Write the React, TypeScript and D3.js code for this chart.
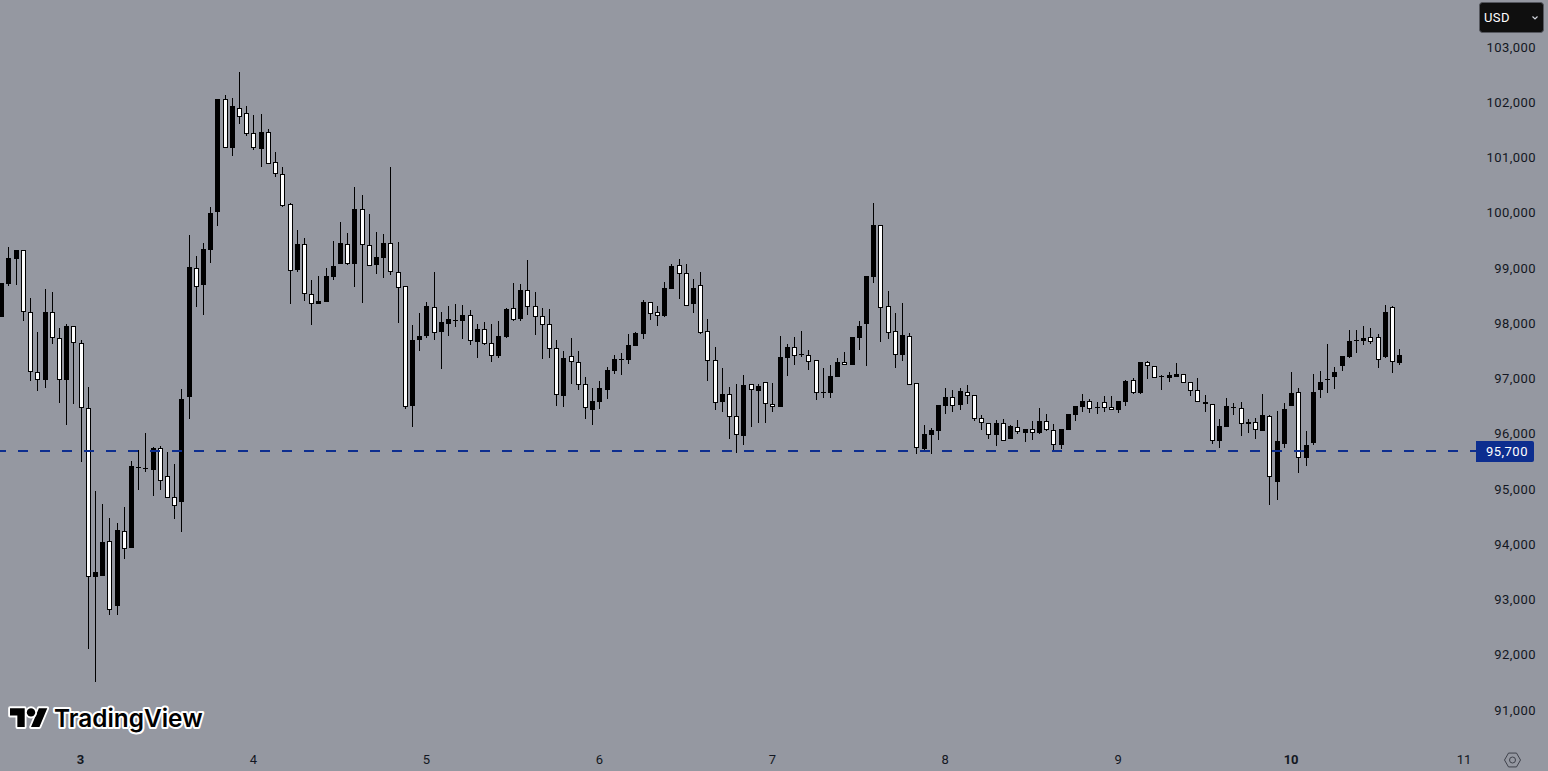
import React, { useRef, useEffect } from 'react'
import * as d3 from 'd3'

// hourly candles, first one is 11 hours before day 3
const firstCandle = Date.UTC(2025, 1, 2, 13)

const opens = [
  98110, 98710, 99160, 99330, 98200, 97110, 96970, 98200, 97740, 96970, 97950,
  97640, 96470, 93400, 93430, 94060, 92890, 94240, 93930, 95380, 95360,
  95340, 95740, 95240, 94850, 94770, 96670, 99000, 98690, 99330, 100010,
  102060, 101170, 101900, 101810, 101440, 101150, 101460, 100920, 100700, 100160,
  98960, 99430, 98530, 98350, 98390, 98840, 99070, 99430, 99070, 100070,
  99420, 99050, 99180, 99450, 98930, 98670, 96500, 97700, 97770, 98290,
  97840, 97990, 98040, 98040, 98150, 97660, 97900, 97640, 97410, 97750,
  98280, 98070, 98600, 98310, 98130, 97990, 97550, 96680, 97410, 97300,
  96900, 96430, 96580, 96790, 97140, 97340, 97340, 97590, 97810, 98390,
  98200, 98130, 98620, 99050, 98910, 98350, 98690, 97860, 97340, 96580,
  96720, 96320, 95960, 96900, 96770, 96940, 96540, 96480, 97370, 97570,
  97430, 97430, 97340, 96740, 96740, 97030, 97300, 97240, 97730, 97990,
  98840, 99780, 98310, 97860, 97430, 97770, 96920, 95720, 95980, 96050,
  96500, 96670, 96520, 96760, 96700, 96290, 96190, 95980, 96190, 95910,
  96130, 96010, 96090, 96010, 96230, 96070, 95800, 96070, 96340, 96480,
  96590, 96470, 96580, 96480, 96430, 96580, 96970, 96740, 97300, 97230,
  97020, 97010, 97030, 97080, 96940, 96790, 96580, 96540, 95870, 96120,
  96460, 96470, 96180, 96210, 96050, 96320, 95130, 95820, 96500, 96760,
  95560, 95830, 96790, 96970, 97030, 97230, 97390, 97670, 97680, 97750,
  97750, 97390, 98290, 97280
]

const highs = [
  98730, 99380, 99330, 99330, 98460, 97840, 98620, 98570, 97910, 97990, 97950,
  97700, 96850, 94960, 94730, 94470, 94380, 94670, 95510, 95710, 96020,
  95760, 95770, 95670, 95450, 96810, 99600, 99220, 99450, 100100, 102060,
  102130, 102080, 102550, 101930, 101770, 101790, 101520, 101100, 100830, 100180,
  99690, 99540, 98780, 98860, 99000, 99490, 99830, 99630, 100470, 100320,
  99980, 99650, 99620, 100830, 99470, 98670, 97970, 98190, 98390, 98930,
  98200, 98310, 98350, 98330, 98240, 97990, 98020, 97990, 98040, 98280,
  98730, 98710, 99150, 98570, 98280, 98260, 97700, 97500, 97730, 97500,
  97030, 96830, 96960, 97210, 97430, 97460, 97810, 97840, 98420, 98390,
  98310, 98750, 99070, 99160, 99070, 98800, 98930, 98080, 97570, 97190,
  96850, 96900, 97060, 96900, 96900, 96940, 96920, 97770, 97630, 97750,
  97860, 97520, 97340, 97190, 97240, 97370, 97480, 97750, 98040, 98860,
  100180, 99780, 98580, 98190, 98370, 97820, 96920, 96160, 96100, 96520,
  96830, 96790, 96830, 96880, 96700, 96340, 96190, 96250, 96270, 96160,
  96250, 96090, 96230, 96470, 96360, 96180, 96090, 96360, 96500, 96720,
  96630, 96580, 96680, 96680, 96590, 96970, 97010, 97300, 97320, 97230,
  97060, 97120, 97280, 97080, 96940, 97010, 96700, 96540, 96270, 96650,
  96560, 96580, 96270, 96290, 96720, 96340, 96410, 96560, 97120, 96830,
  96050, 97080, 97130, 97630, 97210, 97410, 97880, 97880, 97950, 97910,
  97810, 98330, 98310, 97530
]

const lows = [
  98110, 98670, 98690, 98040, 96960, 96780, 96820, 97620, 96560, 96150, 96530,
  95480, 92100, 91510, 93430, 92720, 92720, 93740, 93930, 94980, 95310,
  94870, 94980, 94840, 94460, 94220, 96270, 98290, 98150, 99090, 99760,
  101170, 101030, 101610, 101390, 101140, 100820, 100890, 100650, 100110, 98350,
  98930, 98400, 97960, 98350, 98390, 98780, 99070, 99050, 98660, 98370,
  99040, 98890, 98820, 98870, 98000, 96450, 96120, 97500, 97730, 97700,
  97170, 97770, 97930, 97720, 97610, 97370, 97610, 97300, 97370, 97730,
  98040, 98040, 98150, 97790, 97350, 97370, 96500, 96480, 96900, 96790,
  96270, 96160, 96450, 96630, 97080, 97060, 97260, 97590, 97720, 98060,
  97950, 98110, 98620, 98440, 98320, 98190, 97810, 96960, 96430, 96390,
  95910, 95660, 95800, 96120, 96190, 96190, 96390, 96480, 97040, 97240,
  97390, 97150, 96610, 96650, 96650, 97030, 97250, 97240, 97520, 97230,
  98730, 97660, 97720, 97190, 97320, 96880, 95630, 95690, 95630, 95890,
  96360, 96390, 96430, 96540, 96230, 96070, 95910, 95780, 95860, 95910,
  96000, 95850, 95890, 96000, 96050, 95690, 95720, 96070, 96230, 96390,
  96380, 96360, 96390, 96430, 96380, 96500, 96720, 96720, 96990, 97010,
  96790, 96940, 97030, 96920, 96680, 96580, 96390, 95810, 95740, 96120,
  96340, 95960, 96010, 95910, 96050, 94710, 94800, 95740, 96500, 95290,
  95420, 95800, 96650, 96740, 96810, 97140, 97370, 97460, 97610, 97630,
  97190, 97370, 97100, 97240
]

const closes = [
  98730, 99180, 99330, 98200, 97110, 96970, 98200, 97740, 96970, 97950, 97650,
  96470, 93400, 93500, 94040, 92810, 94260, 93920, 95420, 95400, 95380,
  95740, 95150, 94840, 94700, 96630, 99020, 98660, 99340, 100000, 102060,
  101170, 101930, 101740, 101430, 101170, 101460, 100890, 100700, 100130, 98950,
  99430, 98530, 98340, 98400, 98860, 99040, 99450, 99070, 100070, 99420,
  99040, 99200, 99450, 98930, 98640, 96480, 97700, 97770, 98310, 97830,
  98020, 98080, 98060, 98150, 97670, 97900, 97630, 97410, 97770, 98260,
  98060, 98600, 98300, 98120, 97970, 97530, 96710, 97370, 97290, 96890,
  96470, 96590, 96830, 97150, 97350, 97360, 97610, 97820, 98390, 98170,
  98140, 98640, 99040, 98890, 98320, 98640, 97830, 97320, 96560, 96720,
  96310, 95970, 96880, 96790, 96860, 96540, 96490, 97390, 97570, 97410,
  97440, 97300, 96740, 96760, 97040, 97300, 97250, 97750, 97950, 98860,
  99780, 98280, 97830, 97430, 97790, 96880, 95750, 96000, 96070, 96520,
  96670, 96500, 96770, 96690, 96270, 96190, 95970, 96190, 95860, 96140,
  96040, 96090, 96020, 96230, 96070, 95800, 96090, 96360, 96500, 96590,
  96450, 96490, 96470, 96430, 96590, 96960, 96740, 97300, 97230, 97010,
  97040, 97060, 97080, 96920, 96780, 96580, 96530, 95870, 96140, 96500,
  96480, 96180, 96210, 96060, 96340, 95210, 95870, 96450, 96740, 95570,
  95800, 96760, 96940, 96990, 97120, 97410, 97680, 97690, 97730, 97660,
  97340, 98200, 97290, 97430
]

const priceTicks = [91000, 92000, 93000, 94000, 95000, 96000, 97000, 98000, 99000, 100000, 101000, 102000, 103000]
const boldDays = [3, 10]
const levelPrice = 95700
const currency = 'USD'

const WIDTH = 1548
const HEIGHT = 771
const BG = '#9598a1'
const INK = '#131722'
const LEVEL = '#0d2e8f'
const FONT = 'Roboto, "Liberation Sans", sans-serif'

const App: React.FC = () => {
  const svgRef = useRef<SVGSVGElement>(null)

  useEffect(() => {
    if (!svgRef.current) return

    const svg = d3.select(svgRef.current)
    svg.selectAll('*').remove()

    svg.append('rect').attr('width', WIDTH).attr('height', HEIGHT).attr('fill', BG)

    const x = d3.scaleUtc()
      .domain([Date.UTC(2025, 1, 3), Date.UTC(2025, 1, 11)])
      .range([80.55, 1464.05])
    const y = d3.scaleLinear().domain([91000, 103000]).range([710, 47])

    const candles = opens.map((open, i) => ({
      time: d3.utcHour.offset(new Date(firstCandle), i),
      open,
      high: highs[i],
      low: lows[i],
      close: closes[i]
    }))

    const plot = svg.append('g')
    const candle = plot.selectAll('g')
      .data(candles)
      .enter().append('g')
      .attr('transform', d => `translate(${Math.round(x(d.time))},0)`)

    // wick
    candle.append('rect')
      .attr('x', 0)
      .attr('width', 1)
      .attr('y', d => Math.round(y(d.high)))
      .attr('height', d => Math.max(1, Math.round(y(d.low)) - Math.round(y(d.high))))
      .attr('fill', '#000')

    // body, up candles are black and down candles white with a black edge
    candle.append('rect')
      .attr('x', -2)
      .attr('width', 5)
      .attr('y', d => Math.round(y(Math.max(d.open, d.close))))
      .attr('height', d => Math.max(1, Math.round(y(Math.min(d.open, d.close))) - Math.round(y(Math.max(d.open, d.close)))))
      .attr('fill', '#000')

    candle.filter(d => d.close < d.open).append('rect')
      .attr('x', -1)
      .attr('width', 3)
      .attr('y', d => Math.round(y(d.open)) + 1)
      .attr('height', d => Math.max(0, Math.round(y(d.close)) - Math.round(y(d.open)) - 2))
      .attr('fill', '#fff')

    // level line and its price label
    const levelY = Math.round(y(levelPrice)) + 1
    svg.append('line')
      .attr('x1', -4)
      .attr('x2', 1476)
      .attr('y1', levelY)
      .attr('y2', levelY)
      .attr('stroke', LEVEL)
      .attr('stroke-width', 2)
      .attr('stroke-dasharray', '10 12')

    // price axis
    const yAxis = svg.append('g')
      .attr('transform', 'translate(1536,0)')
      .call(d3.axisLeft(y).tickValues(priceTicks).tickSize(0).tickPadding(0).tickFormat(d3.format(',') as any))
    yAxis.select('.domain').remove()
    yAxis.selectAll('text')
      .attr('fill', INK)
      .style('font-family', FONT)
      .style('font-size', '13px')
      .style('letter-spacing', '0.45px')

    svg.append('path')
      .attr('d', `M1476,${levelY - 10}H1532a2,2 0 0 1 2,2V${levelY + 9}a2,2 0 0 1 -2,2H1476Z`)
      .attr('fill', LEVEL)
    svg.append('text')
      .text(d3.format(',')(levelPrice))
      .attr('x', 1507)
      .attr('y', levelY)
      .attr('dy', '0.35em')
      .attr('text-anchor', 'middle')
      .attr('fill', '#fff')
      .style('font-family', FONT)
      .style('font-size', '13px')
      .style('letter-spacing', '0.45px')

    // time axis
    const xAxis = svg.append('g')
      .attr('transform', 'translate(-0.5,749)')
      .call(d3.axisBottom(x).ticks(d3.utcDay.every(1) as any).tickSize(0).tickPadding(6).tickFormat(d3.utcFormat('%-d') as any))
    xAxis.select('.domain').remove()
    xAxis.selectAll('text')
      .attr('fill', INK)
      .style('font-family', FONT)
      .style('font-size', '13px')
      .style('font-weight', (d: any) => (boldDays.includes(d.getUTCDate()) ? 700 : 400))

    // currency button
    const button = svg.append('g')
    button.append('rect')
      .attr('x', 1479.5)
      .attr('y', 2.5)
      .attr('width', 64)
      .attr('height', 30)
      .attr('rx', 3)
      .attr('fill', '#0f0f0f')
      .attr('stroke', '#55575e')
    button.append('text')
      .text(currency)
      .attr('x', 1484)
      .attr('y', 22)
      .attr('fill', '#fff')
      .style('font-family', FONT)
      .style('font-size', '13px')
      .style('letter-spacing', '0.4px')
    button.append('path')
      .attr('d', 'M1532.5,16.5L1535,19L1537.5,16.5')
      .attr('fill', 'none')
      .attr('stroke', '#d1d4dc')
      .attr('stroke-width', 1.2)

    // settings hexagon
    const hexagon = d3.range(6).map(i => {
      const a = Math.PI / 3 * i
      return [1512.5 + 8 * Math.cos(a), 760 + 8 * Math.sin(a)] as [number, number]
    })
    svg.append('path')
      .attr('d', d3.line().curve(d3.curveLinearClosed)(hexagon))
      .attr('fill', 'none')
      .attr('stroke', '#3f424b')
    svg.append('circle')
      .attr('cx', 1512.5)
      .attr('cy', 760)
      .attr('r', 3)
      .attr('fill', 'none')
      .attr('stroke', '#3f424b')

    // logo
    const logo = svg.append('g')
    const mark = logo.append('g').attr('transform', 'translate(10,704) scale(1.05)')
    mark.append('path')
      .attr('d', 'M14 22H7V11H0V4h14v18zM28 22h-8l7.5-18h8L28 22z')
    mark.append('circle').attr('cx', 20).attr('cy', 8).attr('r', 4)
    mark.selectAll('*')
      .attr('fill', '#000')
      .attr('stroke', '#fff')
      .attr('stroke-width', 3.5)
      .attr('stroke-linejoin', 'round')
      .style('paint-order', 'stroke')
    logo.append('text')
      .text('TradingView')
      .attr('x', 54)
      .attr('y', 726.5)
      .attr('fill', '#000')
      .attr('stroke', '#fff')
      .attr('stroke-width', 4)
      .attr('stroke-linejoin', 'round')
      .style('paint-order', 'stroke')
      .style('font-family', 'Inter, Roboto, sans-serif')
      .style('font-size', '24.4px')
      .style('font-weight', 600)
  }, [])

  return (
    <svg
      ref={svgRef}
      width={WIDTH}
      height={HEIGHT}
      style={{ position: 'absolute', left: 0, top: 0, display: 'block' }}
    />
  )
}

export default App
